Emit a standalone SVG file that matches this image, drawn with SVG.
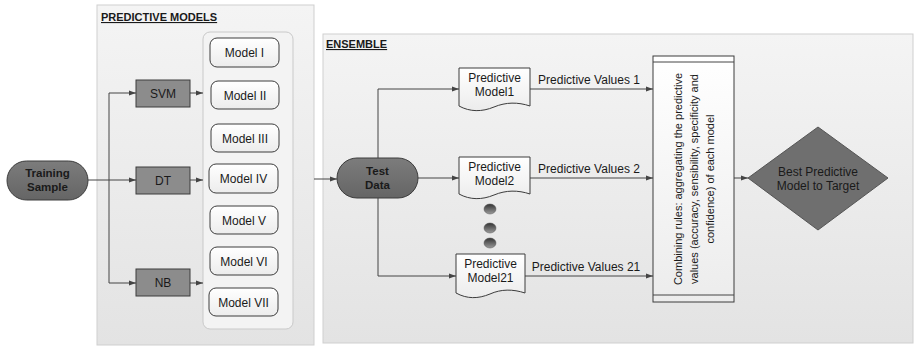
<svg xmlns="http://www.w3.org/2000/svg" width="915" height="347" viewBox="0 0 915 347">
  <defs>
    <linearGradient id="panelFill" x1="0" y1="0" x2="0" y2="1">
      <stop offset="0" stop-color="#f4f4f4"/>
      <stop offset="1" stop-color="#e3e3e3"/>
    </linearGradient>
    <linearGradient id="lightFill" x1="0" y1="0" x2="0" y2="1">
      <stop offset="0" stop-color="#ffffff"/>
      <stop offset="1" stop-color="#ececec"/>
    </linearGradient>
    <linearGradient id="darkFill" x1="0" y1="0" x2="0" y2="1">
      <stop offset="0" stop-color="#7c7c7c"/>
      <stop offset="1" stop-color="#656565"/>
    </linearGradient>
    <linearGradient id="dotFill" x1="0" y1="0" x2="0" y2="1">
      <stop offset="0" stop-color="#333"/>
      <stop offset="1" stop-color="#9a9a9a"/>
    </linearGradient>
    <marker id="arrow" viewBox="0 0 10 10" refX="10" refY="5" markerWidth="7" markerHeight="7" markerUnits="userSpaceOnUse" orient="auto">
      <path d="M0,1.5 L10,5 L0,8.5 z" fill="#444"/>
    </marker>
    <style>
      text { font-family: "Liberation Sans", Arial, sans-serif; fill: #1a1a1a; }
      .panel { fill: url(#panelFill); stroke: #cfcfcf; stroke-width: 1; }
      .title { font-size: 11px; font-weight: bold; text-decoration: underline; }
      .inner { fill: #f3f3f3; stroke: #c9c9c9; stroke-width: 1; }
      .model { fill: url(#lightFill); stroke: #3c3c3c; stroke-width: 1; }
      .dark { fill: url(#darkFill); stroke: #3c3c3c; stroke-width: 1; }
      .box { fill: #8c8c8c; stroke: #3c3c3c; stroke-width: 1; }
      .lbl { font-size: 12px; text-anchor: middle; }
      .rot { font-size: 11px; text-anchor: middle; }
      .bold { font-size: 11.5px; font-weight: bold; text-anchor: middle; }
      .conn { fill: none; stroke: #444; stroke-width: 1; }
      .arr { marker-end: url(#arrow); }
    </style>
  </defs>

  <!-- panels -->
  <g id="panel-models">
    <rect class="panel" x="97" y="5" width="217" height="340"/>
    <text class="title" x="101" y="21">PREDICTIVE MODELS</text>
    <rect class="inner" x="203" y="32" width="90" height="297" rx="7"/>
  </g>
  <g id="panel-ensemble">
    <rect class="panel" x="323" y="34" width="590" height="309"/>
    <text class="title" x="326" y="48">ENSEMBLE</text>
  </g>

  <!-- connectors -->
  <g id="connectors">
    <path class="conn" d="M88,180 H109"/>
    <path class="conn" d="M109,93 V283"/>
    <path class="conn arr" d="M109,93 H136"/>
    <path class="conn arr" d="M109,180 H136"/>
    <path class="conn arr" d="M109,283 H136"/>
    <path class="conn arr" d="M190,93 H203"/>
    <path class="conn arr" d="M190,180 H203"/>
    <path class="conn arr" d="M190,283 H203"/>
    <path class="conn arr" d="M314,179 H337"/>
    <path class="conn" d="M378,158 V89"/>
    <path class="conn" d="M378,198 V276"/>
    <path class="conn arr" d="M378,89 H459"/>
    <path class="conn arr" d="M418,178 H459"/>
    <path class="conn arr" d="M378,276 H456"/>
    <path class="conn arr" d="M530,89 H653"/>
    <path class="conn arr" d="M530,178 H653"/>
    <path class="conn arr" d="M525,276 H653"/>
    <path class="conn arr" d="M734,178 H748"/>
    <text class="lbl" x="589" y="84">Predictive Values 1</text>
    <text class="lbl" x="589" y="173">Predictive Values 2</text>
    <text class="lbl" x="586" y="271">Predictive Values 21</text>
  </g>

  <!-- training sample -->
  <g id="training-sample">
    <rect class="dark" x="7" y="161" width="81" height="39" rx="19.5"/>
    <text class="bold" x="47.5" y="177">Training</text>
    <text class="bold" x="47.5" y="191">Sample</text>
  </g>

  <!-- learners -->
  <g id="svm">
    <rect class="box" x="136" y="80" width="54" height="27"/>
    <text class="lbl" x="163" y="97.5">SVM</text>
  </g>
  <g id="dt">
    <rect class="box" x="136" y="167" width="54" height="27"/>
    <text class="lbl" x="163" y="184.5">DT</text>
  </g>
  <g id="nb">
    <rect class="box" x="136" y="269" width="54" height="27"/>
    <text class="lbl" x="163" y="286.5">NB</text>
  </g>

  <!-- generated models -->
  <g id="model-1">
    <rect class="model" x="210" y="38" width="69" height="29" rx="7"/>
    <text class="lbl" x="244.5" y="57">Model I</text>
  </g>
  <g id="model-2">
    <rect class="model" x="211" y="81" width="68" height="28" rx="7"/>
    <text class="lbl" x="245" y="99.5">Model II</text>
  </g>
  <g id="model-3">
    <rect class="model" x="211" y="124" width="68" height="28" rx="7"/>
    <text class="lbl" x="245" y="142.5">Model III</text>
  </g>
  <g id="model-4">
    <rect class="model" x="209" y="164" width="69" height="29" rx="7"/>
    <text class="lbl" x="243.5" y="183">Model IV</text>
  </g>
  <g id="model-5">
    <rect class="model" x="210" y="206" width="68" height="28" rx="7"/>
    <text class="lbl" x="244" y="224.5">Model V</text>
  </g>
  <g id="model-6">
    <rect class="model" x="210" y="247" width="68" height="28" rx="7"/>
    <text class="lbl" x="244" y="265.5">Model VI</text>
  </g>
  <g id="model-7">
    <rect class="model" x="209" y="288" width="69" height="28" rx="7"/>
    <text class="lbl" x="243.5" y="306.5">Model VII</text>
  </g>

  <!-- test data -->
  <g id="test-data">
    <rect class="dark" x="337" y="158" width="81" height="40" rx="20"/>
    <text class="bold" x="377.5" y="174.5">Test</text>
    <text class="bold" x="377.5" y="188.5">Data</text>
  </g>

  <!-- predictive model documents -->
  <g id="pm-1">
    <path class="model" d="M459,68 H530 V106 C518,102 506,102 494,107 C482,112 470,112 459,106 Z"/>
    <text class="lbl" x="494.5" y="82">Predictive</text>
    <text class="lbl" x="494.5" y="96">Model1</text>
  </g>
  <g id="pm-2">
    <path class="model" d="M459,157 H530 V194 C518,190 506,190 494,195 C482,200 470,200 459,194 Z"/>
    <text class="lbl" x="494.5" y="171">Predictive</text>
    <text class="lbl" x="494.5" y="185">Model2</text>
  </g>
  <g id="pm-21">
    <path class="model" d="M456,254 H525 V293 C513,289 501,289 490,294 C478,299 467,299 456,293 Z"/>
    <text class="lbl" x="490.5" y="268">Predictive</text>
    <text class="lbl" x="490.5" y="282">Model21</text>
  </g>

  <!-- ellipsis dots -->
  <g id="dots">
    <ellipse cx="490" cy="209" rx="6" ry="5" fill="url(#dotFill)" stroke="#555" stroke-width="0.5"/>
    <ellipse cx="490" cy="228" rx="6" ry="5" fill="url(#dotFill)" stroke="#555" stroke-width="0.5"/>
    <ellipse cx="490" cy="243" rx="6" ry="5" fill="url(#dotFill)" stroke="#555" stroke-width="0.5"/>
  </g>

  <!-- combining rules -->
  <g id="combining-rules">
    <rect class="model" x="653" y="56" width="81" height="246"/>
    <path class="conn" d="M653,62 H734 M653,295 H734"/>
    <g transform="translate(694,179) rotate(-90)">
      <text class="rot" x="0" y="-12">Combining rules: aggregating the predictive</text>
      <text class="rot" x="0" y="4">values (accuracy, sensibility, specificity and</text>
      <text class="rot" x="0" y="20">confidence) of each model</text>
    </g>
  </g>

  <!-- best model -->
  <g id="best-model">
    <path d="M818,127 L888,178 L818,230 L748,178 Z" fill="#6f6f6f" stroke="#555" stroke-width="1"/>
    <text class="lbl" x="818" y="176">Best Predictive</text>
    <text class="lbl" x="818" y="190">Model to Target</text>
  </g>
</svg>
